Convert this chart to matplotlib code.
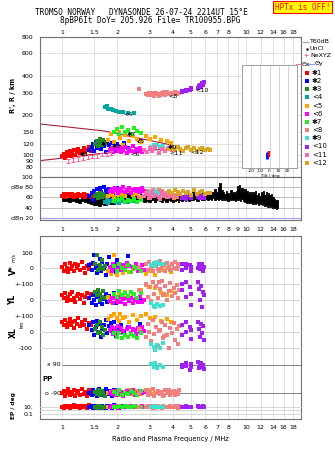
import matplotlib
matplotlib.use('Agg')
import matplotlib.pyplot as plt
from matplotlib.ticker import NullLocator
from matplotlib.transforms import blended_transform_factory

# ---------------- data ----------------
xt_top = [1, 1.5, 2, 3, 4, 5, 6, 7, 8, 10, 12, 14, 16, 18]
xt_mid = [1, 1.5, 2, 3, 4, 5, 6, 7, 8, 9, 10, 12, 14, 16, 18]
r_ticks = [80, 90, 100, 120, 150, 200, 300, 400, 600, 800]
amp_ticks = [20, 40, 60, 80, 100]
amp_tick_labels = ['dBn 20', '40', '60', 'dBe 80', '100']

group_labels = ['✱1', '✱2', '✱3', '<4', '<5', '<6', '✱7', '<8', '✱9', '<10', '<11', '<12']
group_colors = ['#ff0000', '#0000ff', '#228b22', '#00a5a5', '#ffa500', '#ff00ff',
                '#22ee22', '#f08080', '#40e0d0', '#a020f0', '#ff69b4', '#daa520']

# group 1 (red)
g1_f = [1.00, 1.02, 1.04, 1.06, 1.08, 1.10, 1.12, 1.14, 1.16, 1.18, 1.20, 1.22, 1.25, 1.28, 1.31, 1.34, 1.37, 1.40, 1.43]
g1_r = [97, 101, 95, 104, 99, 106, 98, 102, 108, 100, 104, 110, 103, 107, 112, 105, 109, 114, 106]
g1_amp = [63, 66, 61, 65, 67, 62, 64, 66, 60, 65, 63, 67, 62, 64, 66, 61, 65, 63, 60]
g1_v = [10, -15, 25, 5, -25, 35, -5, 15, -20, 30, 0, 20, -10, 40, 5, -30, 15, -5, 25]
g1_yl = [30, 10, 45, -5, 20, 35, 0, 50, 15, -15, 25, 40, 5, 30, -20, 20, 45, 10, 35]
g1_xl = [60, 40, 75, 30, 55, 80, 45, 65, 25, 70, 50, 85, 35, 60, 45, 75, 20, 55, 40]
g1_pp = [-90, -75, -105, -85, -65, -100, -80, -95, -70, -110, -88, -78, -98, -62, -92, -82, -104, -72, -96]
g1_ep = [10, 6, 15, 8, 20, 5, 12, 9, 25, 7, 11, 14, 4, 18, 9, 13, 6, 22, 10]

# group 2 (blue)
g2_f = [1.40, 1.45, 1.48, 1.50, 1.53, 1.56, 1.58, 1.60, 1.63, 1.66, 1.70, 1.73, 1.76, 1.80, 1.84, 1.88, 1.92, 1.96, 2.00, 2.05, 2.10, 2.18, 2.28, 2.65]
g2_r = [108, 115, 120, 106, 125, 112, 118, 128, 110, 122, 116, 105, 126, 119, 112, 123, 108, 117, 121, 110, 115, 124, 113, 127]
g2_amp = [62, 68, 55, 72, 65, 76, 58, 78, 70, 63, 80, 74, 67, 77, 71, 60, 75, 69, 78, 64, 72, 66, 70, 74]
g2_v = [20, -10, 35, 85, 0, -30, 15, 60, -20, 40, 5, -40, 25, 75, -15, 10, 30, -25, 50, 0, -5, 20, 80, 10]
g2_yl = [10, -20, 30, 0, -30, 20, 40, -10, 15, -25, 5, 35, -15, 25, -5, 10, 45, -20, 0, 30, -10, 15, 20, 5]
g2_xl = [40, 10, 60, -20, 30, 70, 0, 50, -30, 20, 45, 75, -10, 35, 55, 5, 65, -25, 25, 15, 40, 0, 30, 50]
g2_pp = [-85, -100, -70, -95, -80, -108, -65, -90, -75, -102, -88, -60, -96, -78, -92, -105, -70, -84, -98, -74, -90, -80, -95, -86]
g2_ep = [8, 12, 5, 15, 9, 20, 7, 11, 6, 14, 10, 4, 18, 8, 13, 6, 25, 9, 12, 5, 16, 10, 7, 11]

# group 3 (dark green)
g3_f = [1.52, 1.55, 1.57, 1.60, 1.62, 1.65, 1.68, 1.71]
g3_r = [120, 128, 117, 133, 124, 119, 130, 122]
g3_amp = [62, 66, 58, 68, 64, 60, 67, 63]
g3_v = [30, 85, -10, 20, 5, 50, -5, 15]
g3_yl = [50, 30, 60, 0, 40, 20, 55, 10]
g3_xl = [20, 40, -10, 60, 0, 30, -20, 10]
g3_pp = [-80, -95, -70, -100, -85, -75, -90, -105]
g3_ep = [10, 6, 14, 8, 12, 5, 9, 11]

# group 4 (teal)
g4_f = [1.72, 1.75, 1.79, 1.84, 1.90, 1.97, 2.05, 2.15, 2.28, 2.45]
g4_r = [232, 238, 226, 224, 220, 217, 214, 212, 210, 208]
g4_amp = [50, 54, 48, 52, 55, 51, 49, 53, 50, 52]

# group 5 (orange)
g5_f = [1.78, 1.85, 1.92, 1.98, 2.03, 2.08, 2.14, 2.20, 2.30, 2.42, 2.55, 2.70, 2.85, 3.00, 3.20, 3.45, 3.70, 3.90]
g5_r = [130, 145, 125, 112, 150, 135, 118, 142, 128, 138, 133, 126, 140, 131, 136, 129, 127, 124]
g5_amp = [62, 65, 60, 68, 64, 70, 66, 63, 72, 65, 67, 61, 69, 64, 66, 63, 62, 65]
g5_v = [-20, -35, 85, -45, -10, 5, -30, 15, -25, -5, 10, -15, -35, -20, -40, -10, 5, -25]
g5_yl = [20, -10, 40, 10, 30, -5, 25, 50, 0, 35, 15, 60, 96, 80, 75, 45, 30, 55]
g5_xl = [80, 100, 110, 90, 70, 115, 85, 95, 60, 105, 75, 100, 112, 88, 95, 70, 80, 65]
g5_pp = [-85, -80, -95, -75, -90, -100, -82, -88, -70, -92, -78, -96, -80, -72, -86, -94, -76, -90]
g5_ep = [10, 8, 12, 6, 14, 9, 11, 7, 13, 10, 8, 15, 9, 12, 6, 11, 10, 8]

# group 6 (magenta)
g6_f = [1.82, 1.86, 1.90, 1.94, 1.98, 2.02, 2.06, 2.10, 2.15, 2.20, 2.25, 2.30, 2.36, 2.42, 2.48, 2.54, 2.60, 2.66, 2.72, 2.80]
g6_r = [108, 112, 104, 115, 110, 106, 113, 105, 109, 114, 103, 111, 107, 116, 104, 110, 106, 112, 105, 108]
g6_amp = [72, 76, 70, 78, 74, 69, 77, 73, 80, 71, 75, 79, 68, 74, 77, 72, 76, 70, 78, 73]
g6_v = [10, -15, 25, 0, -20, 30, 5, -10, 20, -5, 35, 15, -25, 10, 0, 25, -15, 5, 20, -10]
g6_yl = [-5, 10, -20, 15, 0, -15, 20, -10, 5, -25, 10, -5, 15, -20, 0, 5, -15, 20, -10, 0]
g6_xl = [10, 30, -15, 20, 0, 35, -10, 25, 5, -20, 15, 30, -5, 20, 10, -15, 25, 0, 30, 5]
g6_pp = [-85, -95, -75, -100, -88, -70, -92, -80, -105, -90, -78, -96, -84, -72, -98, -86, -94, -76, -90, -82]
g6_ep = [9, 12, 7, 15, 10, 6, 13, 8, 11, 14, 9, 7, 16, 10, 12, 8, 11, 9, 13, 7]

# group 7 (light green)
g7_f = [1.92, 1.98, 2.05, 2.12, 2.20, 2.28, 2.36, 2.45, 2.55, 2.68]
g7_r = [150, 158, 143, 162, 148, 155, 145, 160, 152, 147]
g7_amp = [52, 56, 54, 58, 50, 55, 53, 57, 51, 54]
g7_v = [15, -20, 30, 0, -10, 20, -25, 10, 5, -15]
g7_yl = [40, 20, 55, 30, 45, 25, 50, 35, 15, 45]
g7_xl = [-10, -30, -5, -40, -20, -35, -15, -25, -42, -8]
g7_pp = [-80, -92, -70, -100, -85, -95, -75, -88, -102, -78]
g7_ep = [11, 8, 14, 9, 12, 7, 10, 13, 8, 10]

# group 8 (salmon)
g8_f = [2.62, 2.85, 2.92, 2.98, 3.05, 3.12, 3.18, 3.25, 3.32, 3.40, 3.48, 3.56, 3.64, 3.72, 3.80, 3.88, 3.96, 4.05, 4.12, 4.20, 4.28, 4.35, 3.35, 3.60]
g8_r = [318, 292, 285, 298, 288, 295, 283, 300, 290, 287, 297, 292, 285, 302, 294, 290, 299, 296, 303, 293, 300, 297, 280, 305]
g8_amp = [60, 68, 72, 58, 65, 74, 62, 70, 66, 56, 73, 64, 69, 60, 71, 67, 63, 58, 65, 61, 70, 66, 75, 62]
g8_v = [10, 25, -10, 40, 5, -20, 30, 15, -5, 45, 0, 20, -15, 35, 10, -10, 25, 5, 40, -5, 15, 30, -20, 20]
g8_yl = [60, 100, 20, 80, -5, 115, 40, 90, 10, 70, 120, 30, 85, 0, 55, 105, 25, 75, 45, 95, 15, 65, 110, 35]
g8_xl = [20, -30, 50, 0, -60, 75, -15, 30, -90, 10, 60, -40, 40, -20, -100, 25, -5, 55, -50, 15, -75, 35, 5, -25]
g8_pp = [-85, -70, -100, -78, -92, -65, -105, -88, -75, -96, -82, -110, -72, -90, -68, -98, -84, -76, -102, -80, -94, -70, -86, -100]
g8_ep = [10, 7, 14, 9, 12, 5, 11, 8, 16, 10, 6, 13, 9, 11, 7, 15, 10, 8, 12, 9, 6, 14, 10, 8]

# group 9 (turquoise)
g9_f = [3.05, 3.15, 3.22, 3.30, 3.40, 3.55]
g9_r = [114, 118, 116, 119, 115, 117]
g9_amp = [70, 66, 72, 68, 64, 69]
g9_v = [20, 35, 15, 40, 25, 30]
g9_yl = [-20, -35, -45, -25, -40, -30]
g9_xl = [-75, -95, -115, -85, -105, -70]
g9_pp = [95, 80, 100, 70, 88, 75]
g9_ep = [10, 8, 12, 9, 11, 7]

# group 10 (purple)
g10_f = [4.48, 4.50, 4.72, 4.75, 4.98, 5.00, 5.05, 5.50, 5.55, 5.60, 5.70, 5.75, 5.85, 5.90]
g10_r = [302, 310, 306, 316, 312, 320, 324, 322, 335, 345, 330, 352, 340, 360]
g10_amp = [60, 58, 63, 57, 62, 65, 59, 61, 64, 58, 62, 60, 63, 59]
g10_v = [25, -10, 30, 0, 20, -20, 10, 5, 30, -5, 15, 25, -15, 10]
g10_yl = [100, 60, 115, 20, 80, -30, 40, 110, 70, 0, 90, -45, 50, 30]
g10_xl = [40, -20, 60, 0, 30, -45, 10, 65, 20, -30, 50, -10, 35, -55]
g10_pp = [90, 75, 105, 85, 60, 95, 80, 110, 70, 88, 100, 78, 92, 65]
g10_ep = [10, 8, 12, 9, 11, 7, 10, 13, 8, 9, 11, 10, 12, 8]

# group 11 (hot pink)
g11_f = [2.78, 2.90, 3.00, 3.10, 3.22, 3.35, 3.48, 3.62, 3.78, 3.95]
g11_r = [108, 104, 112, 106, 115, 103, 110, 107, 113, 109]
g11_amp = [62, 66, 58, 70, 64, 60, 68, 65, 61, 67]

# group 12 (goldenrod)
g12_f = [3.80, 3.95, 4.10, 4.25, 4.40, 4.55, 4.70, 4.85, 5.00, 5.20, 5.40, 5.60, 5.80, 6.00, 6.20, 6.40]
g12_r = [110, 113, 108, 115, 111, 107, 112, 114, 109, 112, 106, 110, 113, 108, 111, 109]
g12_amp = [72, 68, 75, 70, 66, 73, 69, 71, 65, 74, 67, 70, 72, 66, 69, 68]

# echo labels in the height panel
lab_f = [1.25, 1.87, 1.63, 2.15, 2.50, 2.34, 2.25, 3.77, 3.75, 5.30, 3.85, 4.97]
lab_r = [100, 115, 119, 203, 127, 101, 144, 282, 113, 310, 102, 104]

# dark red model curves
line1_f = [0.76, 1.7, 4.0]
line1_r = [172, 152, 118]
line2_f = [0.76, 1.0, 1.6, 4.4]
line2_r = [90, 94, 102, 112]

# NeXYZ points with error bars
nexyz_f = [1.08, 1.15, 1.22, 1.30, 1.38, 1.46, 1.55, 1.65, 1.75, 1.85]
nexyz_r = [90, 91, 93, 94, 96, 97, 98, 100, 101, 103]
nexyz_dr = [3, 3, 3, 3, 3, 3, 3, 3, 3, 3]

# total amplitude band (all echoes)
amp_f = [1.00, 1.05, 1.10, 1.15, 1.20, 1.25, 1.30, 1.35, 1.40, 1.45, 1.50, 1.55, 1.60, 1.65, 1.70, 1.80, 1.90, 2.00,
         2.10, 2.20, 2.30, 2.40, 2.50, 2.60, 2.70, 2.80, 2.90, 3.00, 3.10, 3.20, 3.30, 3.40, 3.50, 3.60, 3.70, 3.80,
         3.90, 4.00, 4.10, 4.20, 4.30, 4.40, 4.50, 4.60, 4.70, 4.80, 4.90, 5.00, 5.15, 5.30, 5.45, 5.60, 5.75, 5.90,
         6.05, 6.20, 6.35, 6.50, 6.65, 6.80, 6.95, 7.10, 7.25, 7.40, 7.55, 7.70, 7.85, 8.00, 8.15, 8.30, 8.45, 8.60,
         8.75, 8.90, 9.05, 9.20, 9.35, 9.50, 9.70, 9.90, 10.1, 10.3, 10.5, 10.7, 10.9, 11.1, 11.3, 11.5, 11.7, 11.9,
         12.1, 12.3, 12.5, 12.7, 12.9, 13.1, 13.3, 13.5, 13.7, 13.9, 14.1, 14.3, 14.5, 14.7, 14.9]
amp_hi = [60, 58, 61, 59, 60, 57, 61, 59, 62, 60, 63, 58, 61, 60, 62, 59, 63, 62,
          64, 63, 66, 64, 65, 63, 66, 64, 62, 65, 67, 63, 66, 64, 68, 65, 63, 66,
          64, 67, 63, 66, 64, 68, 65, 63, 67, 64, 69, 66, 70, 67, 71, 68, 72, 66,
          70, 67, 73, 69, 71, 76, 70, 80, 88, 74, 70, 67, 72, 69, 66, 74, 68, 71,
          67, 73, 83, 85, 72, 78, 70, 76, 72, 66, 70, 64, 71, 66, 73, 65, 69, 63,
          70, 66, 72, 64, 70, 62, 68, 64, 66, 58, 60, 56, 55, 54, 55]
amp_lo = [53, 52, 50, 53, 51, 49, 52, 50, 48, 46, 44, 45, 43, 46, 44, 47, 46, 49,
          51, 50, 52, 53, 50, 54, 52, 50, 53, 51, 54, 50, 55, 52, 50, 54, 51, 55,
          52, 50, 53, 55, 51, 54, 52, 56, 53, 55, 52, 55, 54, 56, 53, 57, 55, 54,
          57, 55, 56, 54, 58, 55, 57, 54, 56, 55, 58, 54, 57, 53, 56, 54, 57, 55,
          52, 56, 54, 57, 53, 56, 52, 50, 49, 51, 48, 50, 47, 49, 46, 48, 45, 47,
          46, 44, 46, 43, 45, 42, 44, 41, 43, 40, 42, 39, 41, 38, 40]

# tilt inset
tilt_red_x = [-1.0, -1.0]
tilt_red_r = [97, 108]
tilt_blue_x = [-3.0, -3.0]
tilt_blue_r = [93, 106]
tilt_ticks = [-20, -10, 0, 10, 20]

# ---------------- figure ----------------
W, H = 335, 451
fig = plt.figure(figsize=(W / 100, H / 100), dpi=100)
plt.rcParams['font.family'] = ['DejaVu Sans']
FS = 4.5
SPINE = '#707070'
GRID = '#dcdcdc'
MS = 2.7


def rect(x0, y0, x1, y1):
    return [x0 / W, 1 - y1 / H, (x1 - x0) / W, (y1 - y0) / H]


def fx(x):
    return x / W


def fy(y):
    return 1 - y / H


def freq_axis(ax, labels, pos='bottom', pad=2):
    ax.set_xscale('log')
    ax.set_xlim(0.76, 19.9)
    lab = [('%g' % t) if (labels is not None and t in labels) else '' for t in xt_mid]
    ax.set_xticks(xt_mid, labels=lab)
    ax.xaxis.set_minor_locator(NullLocator())
    ax.grid(True, axis='x', color=GRID, lw=0.6)
    ax.set_axisbelow(True)
    if pos == 'top':
        ax.xaxis.set_ticks_position('top')
    ax.tick_params(axis='x', length=0, pad=pad, labelsize=FS)
    for s in ax.spines.values():
        s.set_color(SPINE)
        s.set_linewidth(0.8)


groups = [
    (g1_f, g1_r, g1_amp, (g1_v, g1_yl, g1_xl, g1_pp, g1_ep)),
    (g2_f, g2_r, g2_amp, (g2_v, g2_yl, g2_xl, g2_pp, g2_ep)),
    (g3_f, g3_r, g3_amp, (g3_v, g3_yl, g3_xl, g3_pp, g3_ep)),
    (g4_f, g4_r, g4_amp, None),
    (g5_f, g5_r, g5_amp, (g5_v, g5_yl, g5_xl, g5_pp, g5_ep)),
    (g6_f, g6_r, g6_amp, (g6_v, g6_yl, g6_xl, g6_pp, g6_ep)),
    (g7_f, g7_r, g7_amp, (g7_v, g7_yl, g7_xl, g7_pp, g7_ep)),
    (g8_f, g8_r, g8_amp, (g8_v, g8_yl, g8_xl, g8_pp, g8_ep)),
    (g9_f, g9_r, g9_amp, (g9_v, g9_yl, g9_xl, g9_pp, g9_ep)),
    (g10_f, g10_r, g10_amp, (g10_v, g10_yl, g10_xl, g10_pp, g10_ep)),
    (g11_f, g11_r, g11_amp, None),
    (g12_f, g12_r, g12_amp, None),
]

# ---- height panel ----
axR = fig.add_axes(rect(40, 37, 301, 177))
freq_axis(axR, xt_top, pos='top', pad=1.2)
axR.set_yscale('log')
axR.set_ylim(67.4, 800)
axR.set_yticks(r_ticks, labels=[str(t) for t in r_ticks])
axR.yaxis.set_minor_locator(NullLocator())
axR.tick_params(axis='y', length=0, pad=4.5, labelsize=FS)
axR.grid(True, axis='y', color=GRID, lw=0.6)

axR.plot(line1_f, line1_r, color='#a8203a', lw=0.8, zorder=2)
axR.plot(line2_f, line2_r, color='#a8203a', lw=0.8, zorder=2)
axR.errorbar(nexyz_f, nexyz_r, yerr=nexyz_dr, fmt='none', ecolor='#ff5fa0',
             elinewidth=0.7, capsize=1.2, capthick=0.7, zorder=4)
for i, (f, r, a, low) in enumerate(groups):
    axR.plot(f, r, 's', color=group_colors[i], ms=MS, mew=0, zorder=3)
for i in range(len(lab_f)):
    axR.text(lab_f[i], lab_r[i], group_labels[i], fontsize=4.6, color='k',
             ha='left', va='center', zorder=5)

# ---- tilt inset ----
axI = fig.add_axes(rect(242, 65, 297, 168))
axI.set_xlim(-30, 30)
axI.set_yscale('log')
axI.set_ylim(79.5, 491)
axI.yaxis.set_major_locator(NullLocator())
axI.yaxis.set_minor_locator(NullLocator())
axI.set_xticks(tilt_ticks, labels=[str(t) for t in tilt_ticks])
axI.tick_params(axis='x', length=0, pad=0.5, labelsize=3.1)
axI.grid(True, axis='x', color='#cfcfcf', lw=0.6)
axI.set_axisbelow(True)
for s in axI.spines.values():
    s.set_color('#a0a0a0')
    s.set_linewidth(0.7)
axI.plot(tilt_blue_x, tilt_blue_r, color='#0000ff', lw=2.0, solid_capstyle='butt')
axI.plot(tilt_red_x, tilt_red_r, color='#ff0000', lw=1.6, solid_capstyle='butt')
fig.text(fx(270), fy(175.6), 'Tilt / deg', fontsize=3.1, ha='center', va='center')

# ---- amplitude panel ----
axA = fig.add_axes(rect(40, 177, 301, 220))
freq_axis(axA, xt_mid, pos='bottom', pad=5.0)
axA.set_ylim(15.5, 100)
axA.set_yticks(amp_ticks, labels=amp_tick_labels)
axA.tick_params(axis='y', length=0, pad=5, labelsize=FS)
for t in amp_ticks[1:4]:
    axA.axhline(t, color='#b4b4b4', lw=0.6, zorder=1)
axA.axhline(20, color='#9f9fff', lw=0.8, zorder=1)
axA.fill_between(amp_f, amp_lo, amp_hi, step='mid', color='k', lw=0.6, zorder=2)
for i, (f, r, a, low) in enumerate(groups):
    axA.plot(f, a, 's', color=group_colors[i], ms=MS, mew=0, zorder=3)

# ---- lower panel frame ----
axL = fig.add_axes(rect(40, 236, 301, 419))
freq_axis(axL, xt_top, pos='bottom', pad=4.0)
axL.set_yticks([])
axL.set_ylim(0, 1)


def sub_axis(y0, y1, ylim, ticks, labels, log=False, gridc='#d0d0d0'):
    ax = fig.add_axes(rect(40, y0, 301, y1))
    ax.set_xscale('log')
    ax.set_xlim(0.76, 19.9)
    if log:
        ax.set_yscale('log')
    ax.set_ylim(*ylim)
    ax.patch.set_alpha(0)
    for s in ax.spines.values():
        s.set_visible(False)
    ax.set_xticks([])
    ax.xaxis.set_minor_locator(NullLocator())
    ax.yaxis.set_minor_locator(NullLocator())
    ax.set_yticks(ticks, labels=labels)
    ax.tick_params(axis='y', length=0, pad=5, labelsize=FS)
    for t in ticks:
        ax.axhline(t, color=gridc, lw=0.6, zorder=1, clip_on=False)
    return ax


axV = sub_axis(236, 284, (-100.6, 207), [100, 0], ['100', '0'])
axY = sub_axis(284, 316, (-100, 100), [100, 0], ['+-100', '0'])
axX = sub_axis(316, 355, (-147, 99), [100, 0, -100], ['+-100', '0', '-100'])
axP = sub_axis(355, 400, (-132.6, 153.6), [], [])
axE = sub_axis(400, 419, (0.0058, 579), [10, 0.1], ['10.', '0.1'], log=True)
axE.axhline(1, color='#d0d0d0', lw=0.6, zorder=1)

# PP reference lines and labels inside the panel
x0 = (62 - 40) / 261
axP.axhline(90, xmin=x0, color='#808080', lw=0.7, zorder=1)
axP.axhline(-90, xmin=x0, color='#808080', lw=0.7, zorder=1)
tr = blended_transform_factory(axP.transAxes, axP.transData)
axP.text(x0 - 0.005, 90, 'x 90', transform=tr, ha='right', va='center', fontsize=FS)
axP.text(x0 - 0.005, -90, 'o -90', transform=tr, ha='right', va='center', fontsize=FS)

for i, (f, r, a, low) in enumerate(groups):
    if low is None:
        continue
    v, yl, xl, pp, ep = low
    c = group_colors[i]
    for ax, vals in ((axV, v), (axY, yl), (axX, xl), (axP, pp), (axE, ep)):
        ax.plot(f, vals, 's', color=c, ms=MS, mew=0, zorder=3, clip_on=False)

# ---- axis titles ----
fig.text(fx(13), fy(95), "R', R / km", rotation=90, fontsize=4.8, ha='center', va='center', fontweight='bold')
fig.text(fx(13), fy(270), 'V*', rotation=90, fontsize=5.5, ha='center', va='center', fontweight='bold')
fig.text(fx(13), fy(257), 'm/s', rotation=90, fontsize=3.5, ha='center', va='center')
fig.text(fx(13), fy(300), 'YL', rotation=90, fontsize=5.5, ha='center', va='center', fontweight='bold')
fig.text(fx(22), fy(324), 'km', rotation=90, fontsize=3.4, ha='center', va='center')
fig.text(fx(13), fy(333), 'XL', rotation=90, fontsize=5.5, ha='center', va='center', fontweight='bold')
fig.text(fx(47.5), fy(379), 'PP', fontsize=5.0, ha='center', va='center', fontweight='bold')
fig.text(fx(13), fy(406), 'EP / deg', rotation=90, fontsize=4.2, ha='center', va='center', fontweight='bold')
fig.text(fx(170), fy(439), 'Radio and Plasma Frequency / MHz', fontsize=4.8, ha='center', va='center')

# ---- header ----
fig.text(fx(35), fy(12.3), 'TROMSO NORWAY   DYNASONDE 26-07-24 2214UT 15°E',
         family='DejaVu Sans Mono', fontsize=5.6, ha='left', va='center')
fig.text(fx(60), fy(20.3), '8pBP6It DoY= 205.926 File= TR100955.BPG',
         family='DejaVu Sans Mono', fontsize=5.6, ha='left', va='center')
fig.text(fx(302.5), fy(7), 'HPTx is OFF!', family='DejaVu Sans Mono', fontsize=5.5,
         color='#ff0000', ha='center', va='center',
         bbox=dict(boxstyle='square,pad=0.25', fc='#ffff00', ec='#ff0000', lw=0.8))

# ---- legend ----
axG = fig.add_axes(rect(295, 37, 335, 170))
axG.set_xlim(295, 335)
axG.set_ylim(170, 37)
axG.axis('off')
axG.plot([303, 308], [41.7, 41.7], color='#a8a8a8', lw=1.0, clip_on=False)
axG.text(310, 41.7, 'T60dB', fontsize=FS, va='center', ha='left')
axG.plot([307], [48.7], '.', color='k', ms=1.5, clip_on=False)
axG.text(310, 48.7, 'UnCl', fontsize=FS, va='center', ha='left')
axG.plot([306], [55.3], '+', color='#ff5fa0', ms=3, mew=0.6, clip_on=False)
axG.text(310, 55.3, 'NeXYZ', fontsize=FS, va='center', ha='left')
axG.plot([296, 301], [64, 64], color='#f08080', lw=0.8, clip_on=False)
axG.text(301.5, 64, 'Θx', fontsize=FS, va='center', ha='left')
axG.plot([309, 314], [64, 64], color='#9999ff', lw=0.8, clip_on=False)
axG.text(314.5, 64, 'Θy', fontsize=FS, va='center', ha='left')
for i in range(len(group_labels)):
    yy = 72.7 + 8.2 * i
    axG.plot([306.7], [yy], 's', color=group_colors[i], ms=2.2, mew=0, clip_on=False)
    axG.text(312, yy, group_labels[i], fontsize=5.0, va='center', ha='left')

fig.savefig('out.png', dpi=100)
